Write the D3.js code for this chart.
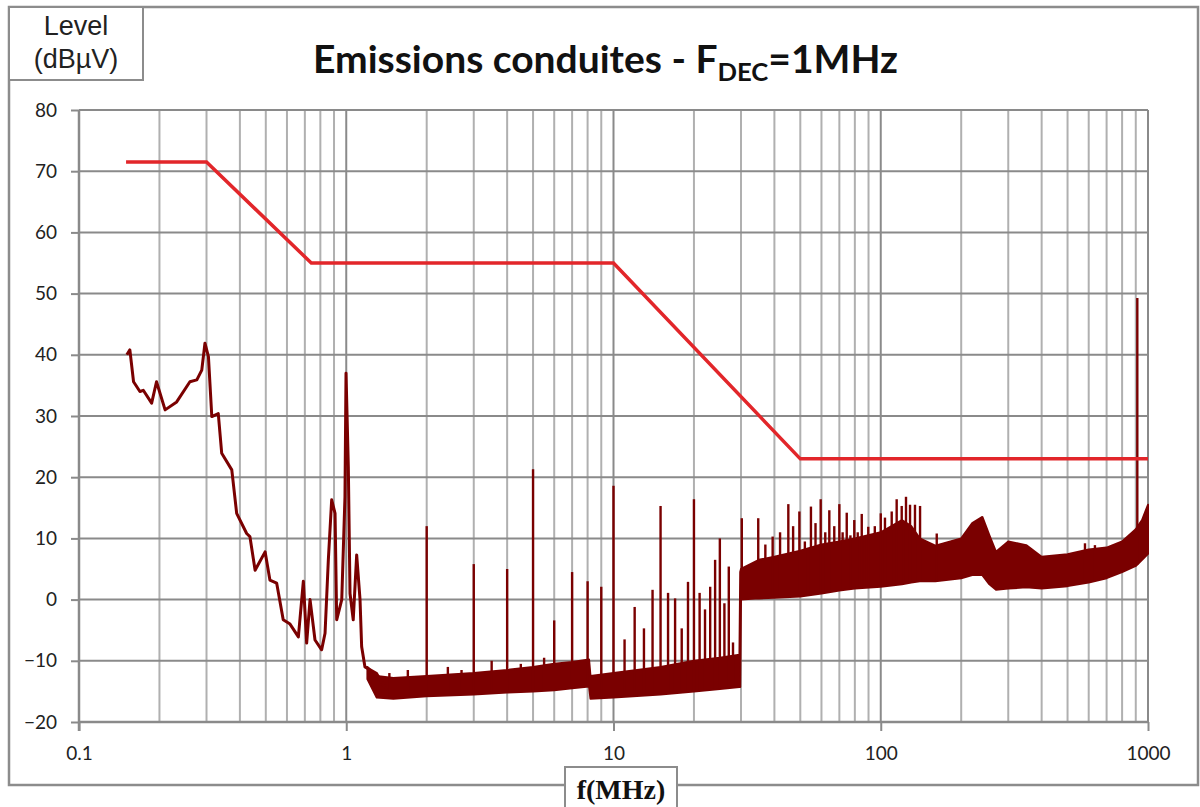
<!DOCTYPE html>
<html>
<head>
<meta charset="utf-8">
<script src="https://cdn.jsdelivr.net/npm/d3@7"></script>
<style>
  html, body { margin: 0; padding: 0; background: #ffffff; }
  svg { display: block; }
</style>
</head>
<body>
<svg id="chart" width="1200" height="807"></svg>
<script>
// ---------------- DATA ----------------
const yTickValues = [-20, -10, 0, 10, 20, 30, 40, 50, 60, 70, 80];
const xTickValues = [0.1, 1, 10, 100, 1000];
const xTickLabels = ["0.1", "1", "10", "100", "1000"];

// Limit line (red)
const limitFreq  = [0.15, 0.30, 0.74, 10, 50, 1000];
const limitLevel = [71.5, 71.5, 55, 55, 23, 23];

// Measured trace, low-frequency part (single line), MHz / dBµV
const lfFreq = [0.151, 0.155, 0.160, 0.169, 0.174, 0.187, 0.195, 0.210, 0.232, 0.260,
  0.276, 0.288, 0.296, 0.305, 0.314, 0.332, 0.342, 0.373, 0.389, 0.424,
  0.436, 0.456, 0.497, 0.518, 0.549, 0.581, 0.616, 0.662, 0.691, 0.711,
  0.732, 0.764, 0.809, 0.833, 0.857, 0.882, 0.908, 0.921, 0.962, 0.989,
  0.998, 1.018, 1.033, 1.062, 1.094, 1.126, 1.142, 1.175, 1.300, 1.417];
const lfLevel = [40.0, 40.8, 35.6, 34.0, 34.2, 32.1, 35.6, 31.0, 32.3, 35.6,
  35.9, 37.5, 41.9, 39.7, 29.9, 30.4, 23.9, 21.2, 14.1, 10.8,
  10.3, 4.8, 7.8, 3.2, 2.7, -3.3, -4.0, -6.1, 3.0, -7.1,
  0.0, -6.6, -8.2, -5.5, 6.5, 16.3, 14.1, -3.3, 0.0, 16.8,
  37.0, 21.7, 1.0, -3.3, 7.3, 0.0, -7.7, -11.0, -12.1, -14.8];

// Measured trace, noise band (lower and upper envelope), MHz / dBµV
const bandFreq = [1.2, 1.3, 1.5, 2, 3, 4, 5, 6, 7, 8.1,
  8.2, 10, 15, 20, 25, 29.6, 29.8,
  30, 35, 40, 50, 60, 70, 80, 100, 120, 130, 140, 160,
  200, 220, 240, 255, 270, 300, 350, 400, 500, 600, 700, 800, 900, 950, 1000];
const bandLow = [-13.0, -16.0, -16.2, -15.8, -15.5, -15.2, -15.0, -14.8, -14.5, -14.2,
  -16.2, -16.0, -15.5, -15.0, -14.6, -14.3, -14.3,
  0.0, 0.2, 0.3, 0.5, 1.0, 1.5, 1.8, 2.1, 2.5, 2.8, 3.0, 3.0,
  3.5, 4.0, 4.0, 2.5, 1.6, 1.8, 2.0, 1.8, 2.2, 2.8, 3.5, 4.5, 5.5, 6.5, 7.5];
const bandHigh = [-11.0, -12.5, -12.8, -12.5, -12.0, -11.5, -11.0, -10.5, -10.2, -9.8,
  -12.5, -12.0, -11.0, -10.0, -9.5, -9.0, 4.5,
  5.0, 6.5, 7.0, 8.0, 9.0, 9.5, 10.0, 11.0, 13.0, 12.0, 10.0, 8.8,
  10.0, 12.5, 13.5, 10.5, 7.8, 9.5, 8.9, 7.0, 7.4, 8.2, 8.5, 9.5, 11.5, 13.0, 15.5];

// Spurious lines (spikes) MHz / peak dBµV
const spikeFreq = [1.45, 1.7, 2, 2.4, 2.7, 3, 3.5, 4, 4.5, 5, 5.5, 6, 7, 8, 9, 10, 11, 12, 13, 14, 15, 16, 17, 18, 19, 20,
  21, 22, 23, 24, 25, 26, 27, 28,
  30.2, 34.8, 37, 39.4, 42, 45.1, 47, 49.6, 52, 54.8, 57, 59.6, 62, 64.2, 67, 70, 72,
  74.6, 77, 79.6, 82, 84.9, 87, 89.8, 95, 100, 103.7, 109.9, 114.7, 119.8, 124.3,
  128.7, 134.3, 140.3, 162, 581, 633, 912];
const spikeLevel = [-12.0, -11.5, 12.0, -11.0, -11.5, 5.8, -10.0, 5.0, -10.5, 21.3, -9.5, -3.4, 4.5, 3.0, 2.1, 18.6, -6.5, -1.2, -4.7, 1.6, 15.3, 1.1, 0.2, -4.7, 2.9, 16.4,
  1.1, -1.6, 2.1, 6.5, 10.0, -0.6, 5.4, -7.0,
  13.3, 13.3, 9.0, 10.3, 11.0, 15.6, 12.0, 14.4, 9.5, 15.2, 12.5, 16.4, 11.0, 14.6, 12.0, 15.6, 11.0,
  14.2, 10.5, 13.0, 11.0, 14.0, 10.0, 11.9, 12.0, 14.1, 13.4, 14.4, 16.4, 15.3, 16.8,
  15.5, 15.5, 15.3, 10.8, 9.2, 8.9, 49.3];

// ---------------- CHART ----------------
const svg = d3.select("#chart");
const x = d3.scaleLog().domain([0.1, 1000]).range([79, 1148]);
const y = d3.scaleLinear().domain([-20, 80]).range([722, 110]);

// outer frame
svg.append("rect").attr("x", 9).attr("y", 7).attr("width", 1189).attr("height", 778)
  .attr("fill", "#fff").attr("stroke", "#8c8c8c").attr("stroke-width", 2.5);

// minor + major vertical grid
const minorX = [];
[0.1, 1, 10, 100].forEach(d => { for (let k = 2; k <= 9; k++) minorX.push(d * k); });
svg.append("g").selectAll("line").data(minorX).join("line")
  .attr("x1", d => x(d)).attr("x2", d => x(d)).attr("y1", y(80)).attr("y2", y(-20))
  .attr("stroke", "#b0b0b0").attr("stroke-width", 2);
svg.append("g").selectAll("line").data(xTickValues).join("line")
  .attr("x1", d => x(d)).attr("x2", d => x(d)).attr("y1", y(80)).attr("y2", y(-20))
  .attr("stroke", "#8a8a8a").attr("stroke-width", 2);
// horizontal grid
svg.append("g").selectAll("line").data(yTickValues).join("line")
  .attr("x1", x(0.1)).attr("x2", x(1000)).attr("y1", d => y(d)).attr("y2", d => y(d))
  .attr("stroke", "#8a8a8a").attr("stroke-width", 2);

// axes
const yAxis = d3.axisLeft(y).tickValues(yTickValues).tickSize(8).tickPadding(14).tickFormat(d3.format("d"));
const gy = svg.append("g").attr("transform", `translate(${x(0.1)},0)`).call(yAxis);
const xAxis = d3.axisBottom(x).tickValues(xTickValues).tickSize(9).tickPadding(16)
  .tickFormat((d, i) => xTickLabels[i]);
const gx = svg.append("g").attr("transform", `translate(0,${y(-20)})`).call(xAxis);
[gx, gy].forEach(g => {
  g.select(".domain").attr("stroke", "#8a8a8a").attr("stroke-width", 2.5);
  g.selectAll(".tick line").attr("stroke", "#8a8a8a").attr("stroke-width", 2);
  g.selectAll(".tick text").attr("fill", "#222").style("font-family", "Lato, 'Liberation Sans', sans-serif")
    .style("font-size", "19px");
});
gx.select(".domain").attr("d", `M${x(0.1)},0H${x(1000)}`);
gy.select(".domain").attr("d", `M0,${y(80)}V${y(-20) + 9}`);

// measured band
const TRACE = "#7a0000";
const area = d3.area().x(d => x(d[0])).y0(d => y(d[1])).y1(d => y(d[2]));
const bandData = bandFreq.map((f, i) => [f, bandLow[i], bandHigh[i]]);
svg.append("path").datum(bandData).attr("d", area)
  .attr("fill", TRACE).attr("stroke", TRACE).attr("stroke-width", 2).attr("stroke-linejoin", "round");

// spikes from band floor to peak
const lowAt = f => {
  const i = d3.bisectRight(bandFreq, f);
  const i0 = Math.max(0, i - 1), i1 = Math.min(bandFreq.length - 1, i);
  if (i0 === i1) return bandLow[i0];
  const t = (Math.log(f) - Math.log(bandFreq[i0])) / (Math.log(bandFreq[i1]) - Math.log(bandFreq[i0]));
  return bandLow[i0] + t * (bandLow[i1] - bandLow[i0]);
};
svg.append("g").selectAll("line").data(spikeFreq.map((f, i) => [f, spikeLevel[i]])).join("line")
  .attr("x1", d => x(d[0])).attr("x2", d => x(d[0]))
  .attr("y1", d => y(lowAt(d[0]))).attr("y2", d => y(d[1]))
  .attr("stroke", TRACE).attr("stroke-width", 2.4);

// low-frequency trace
const line = d3.line().x(d => x(d[0])).y(d => y(d[1]));
svg.append("path").datum(lfFreq.map((f, i) => [f, lfLevel[i]])).attr("d", line)
  .attr("fill", "none").attr("stroke", TRACE).attr("stroke-width", 3).attr("stroke-linejoin", "round");

// limit line
svg.append("path").datum(limitFreq.map((f, i) => [f, limitLevel[i]])).attr("d", line)
  .attr("fill", "none").attr("stroke", "#e2262a").attr("stroke-width", 3.5);

// Level box
svg.append("rect").attr("x", 9).attr("y", 7).attr("width", 134).attr("height", 73)
  .attr("fill", "#fff").attr("stroke", "#8c8c8c").attr("stroke-width", 2);
const lvl = svg.append("text").attr("text-anchor", "middle")
  .style("font-family", "'Liberation Sans', Arial, sans-serif").style("font-size", "27px").attr("fill", "#222");
lvl.append("tspan").attr("x", 76).attr("y", 35).text("Level");
lvl.append("tspan").attr("x", 76).attr("y", 68).text("(dBµV)");

// title
const title = svg.append("text").attr("x", 313).attr("y", 73)
  .style("font-family", "Lato, 'Open Sans', sans-serif").style("font-weight", "700")
  .style("font-size", "38px").attr("fill", "#111")
  .attr("textLength", 585).attr("lengthAdjust", "spacingAndGlyphs");
title.append("tspan").text("Emissions conduites - F");
title.append("tspan").attr("dy", 8).style("font-size", "25px").text("DEC");
title.append("tspan").attr("dy", -8).text("=1MHz");

// f(MHz) box
svg.append("rect").attr("x", 565).attr("y", 767).attr("width", 112).attr("height", 44)
  .attr("fill", "#fff").attr("stroke", "#8c8c8c").attr("stroke-width", 2);
svg.append("text").attr("x", 621).attr("y", 799).attr("text-anchor", "middle")
  .style("font-family", "'Liberation Serif', 'Times New Roman', serif").style("font-weight", "700")
  .style("font-size", "28px").attr("fill", "#111").text("f(MHz)");
</script>
</body>
</html>
